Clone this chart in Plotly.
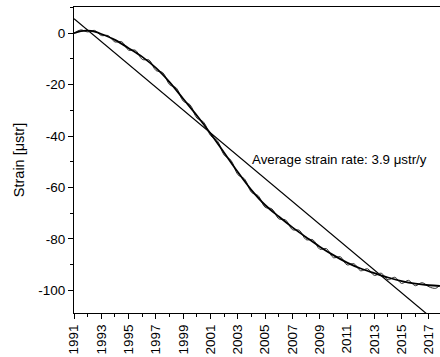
import plotly.graph_objects as go

# Smooth fitted curve
fit_years = [1991, 1991.5, 1992, 1992.5, 1993, 1994, 1995, 1996, 1997, 1998, 1999, 2000,
             2001, 2002, 2003, 2004, 2005, 2006, 2007, 2008, 2009, 2010, 2011, 2012,
             2013, 2014, 2015, 2016, 2017, 2017.8]
fit_strain = [0, 0.8, 1.0, 0.6, -0.3, -2.6, -5.8, -9.2, -13.5, -19.0, -25.5, -32.0,
              -39.0, -46.5, -54.0, -61.0, -66.8, -71.3, -75.5, -79.3, -83.0, -86.3, -89.2, -91.5,
              -93.3, -95.0, -96.4, -97.4, -98.0, -98.3]

# Measured strain (half-yearly)
meas_years = [1991.0, 1991.5, 1992.0, 1992.5, 1993.0, 1993.5, 1994.0, 1994.5, 1995.0, 1995.5,
              1996.0, 1996.5, 1997.0, 1997.5, 1998.0, 1998.5, 1999.0, 1999.5, 2000.0, 2000.5,
              2001.0, 2001.5, 2002.0, 2002.5, 2003.0, 2003.5, 2004.0, 2004.5, 2005.0, 2005.5,
              2006.0, 2006.5, 2007.0, 2007.5, 2008.0, 2008.5, 2009.0, 2009.5, 2010.0, 2010.5,
              2011.0, 2011.5, 2012.0, 2012.5, 2013.0, 2013.5, 2014.0, 2014.5, 2015.0, 2015.5,
              2016.0, 2016.5, 2017.0, 2017.5, 2017.8]
meas_strain = [0.0, 1.3, 0.5, 1.1, -0.9, -0.9, -3.4, -3.3, -6.6, -6.6,
               -10.2, -10.4, -14.5, -15.3, -20.0, -21.3, -26.4, -27.8, -33.0, -34.6,
               -39.8, -41.8, -47.4, -49.4, -55.0, -56.7, -61.9, -63.2, -67.7, -68.3,
               -72.2, -72.6, -76.4, -76.6, -80.3, -80.3, -84.0, -83.8, -87.3, -86.9,
               -90.1, -89.6, -92.4, -91.6, -94.2, -93.3, -95.9, -94.9, -97.3, -96.1,
               -98.2, -97.0, -98.6, -99.2, -98.0]

# Linear trend
trend_years = [1991, 2017.8]
trend_strain = [5.6, -113.4]

x_ticks = list(range(1991, 2018, 2))
y_ticks = [0, -20, -40, -60, -80, -100]

fig = go.Figure()
fig.add_trace(go.Scatter(x=trend_years, y=trend_strain, mode="lines",
                         line=dict(color="black", width=1.2), showlegend=False))
fig.add_trace(go.Scatter(x=meas_years, y=meas_strain, mode="lines", line_shape="spline",
                         line=dict(color="#333333", width=1), showlegend=False))
fig.add_trace(go.Scatter(x=fit_years, y=fit_strain, mode="lines", line_shape="spline",
                         line=dict(color="black", width=1.8), showlegend=False))

fig.add_annotation(x=2003.9, y=-49.1, text="Average strain rate: 3.9 \u03bcstr/y",
                   showarrow=False, xanchor="left", yanchor="middle",
                   font=dict(family="Liberation Sans, Arial", size=13.3, color="black"))

fig.update_layout(
    width=440, height=357,
    margin=dict(l=74, r=0, t=7, b=44),
    paper_bgcolor="white", plot_bgcolor="white",
    font=dict(family="Liberation Sans, Arial", size=13.5, color="black"),
)
fig.update_xaxes(
    range=[1991, 2017.81], tickvals=x_ticks, ticktext=[str(v) for v in x_ticks],
    tickangle=-90, ticks="outside", ticklen=5, tickcolor="black",
    minor=dict(dtick=1, tick0=1991, ticks="outside", ticklen=3, tickcolor="black"),
    showline=True, linecolor="black", linewidth=1, mirror=True,
    showgrid=False, zeroline=False,
)
fig.update_yaxes(
    range=[-108.8, 10.2], tickvals=y_ticks, ticktext=[str(v) for v in y_ticks],
    ticks="outside", ticklen=5, tickcolor="black",
    minor=dict(dtick=10, tick0=0, ticks="outside", ticklen=3, tickcolor="black"),
    showline=True, linecolor="black", linewidth=1,
    showgrid=False, zeroline=False,
    title=dict(text="Strain [\u03bcstr]", font=dict(size=14.5), standoff=10),
)

fig.write_html("out.html")
